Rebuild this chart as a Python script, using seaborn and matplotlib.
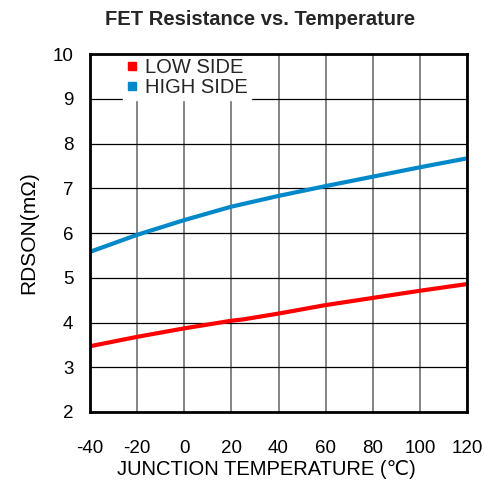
import matplotlib
matplotlib.use("Agg")
import matplotlib.pyplot as plt
import seaborn as sns
import pandas as pd
from matplotlib.lines import Line2D

temps = [-40, -20, 0, 20, 25, 40, 60, 80, 100, 120]
low_side = [3.47, 3.68, 3.87, 4.04, 4.07, 4.20, 4.39, 4.55, 4.71, 4.86]
high_side = [5.58, 5.96, 6.29, 6.59, 6.65, 6.83, 7.05, 7.26, 7.47, 7.67]
series_names = ["LOW SIDE", "HIGH SIDE"]
colors = ["#ff0000", "#0088c8"]
x_ticks = [-40, -20, 0, 20, 40, 60, 80, 100, 120]
y_ticks = [2, 3, 4, 5, 6, 7, 8, 9, 10]

df = pd.DataFrame({
    "T": temps * 2,
    "R": low_side + high_side,
    "side": [series_names[0]] * len(temps) + [series_names[1]] * len(temps),
})

sns.set_theme(style="white")
plt.rcParams["font.family"] = ["Liberation Sans", "DejaVu Sans"]
plt.rcParams["axes.unicode_minus"] = False

fig = plt.figure(figsize=(4.84, 4.83), dpi=100)
ax = fig.add_axes([0.186, 0.147, 0.779, 0.741])

sns.lineplot(data=df, x="T", y="R", hue="side", palette=colors, linewidth=3,
             ax=ax, legend=False, zorder=3)

ax.set_xlim(-40, 120)
ax.set_ylim(2, 10)
ax.set_xticks(x_ticks)
ax.set_yticks(y_ticks)
ax.grid(True, axis="x", color="#707070", linewidth=1.2)
ax.grid(True, axis="y", color="#000000", linewidth=0.9)
for s in ax.spines.values():
    s.set_visible(True)
    s.set_color("black")
    s.set_linewidth(2)
    s.set_zorder(10)
ax.tick_params(axis="x", length=0, pad=20, labelsize=13.5, colors="black")
ax.tick_params(axis="y", length=0, pad=12, labelsize=13.5, colors="black")
ax.set_xlabel("JUNCTION TEMPERATURE (℃)", fontsize=14.5, labelpad=1, color="black")
ax.xaxis.set_label_coords(0.467, -0.135)
ax.set_ylabel("RDSON(mΩ)", fontsize=15, labelpad=10, color="black")
ax.set_title("FET Resistance vs. Temperature", fontsize=14.5, fontweight="bold",
             x=0.451, pad=21)

handles = [Line2D([0], [0], marker="s", color="none", markerfacecolor=c,
                  markeredgecolor=c, markersize=5.5) for c in colors]
leg = ax.legend(handles, series_names, loc="upper left", bbox_to_anchor=(0.088, 0.997),
                frameon=True, fontsize=14.5, handlelength=0.6, handletextpad=0.35,
                labelspacing=0.05, borderpad=0.15, borderaxespad=0.0, fancybox=False)
leg.get_frame().set_edgecolor("white")
leg.get_frame().set_facecolor("white")
leg.get_frame().set_alpha(1)
leg.set_zorder(5)

fig.savefig("out.png", dpi=100)
